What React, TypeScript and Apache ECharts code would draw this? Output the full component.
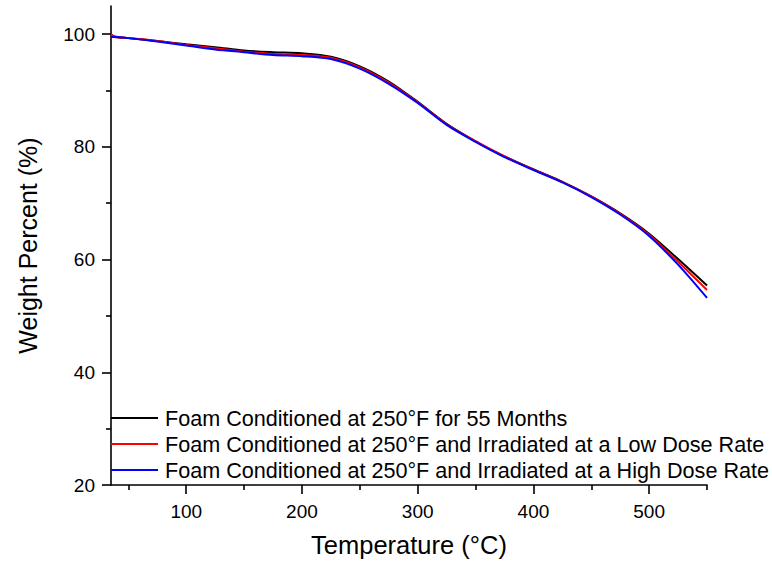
import React, { useEffect, useRef } from "react";
import * as echarts from "echarts";

const temps = [35, 38, 50, 75, 100, 125, 150, 175, 200, 225, 250, 275, 300, 325, 350, 375, 400, 425, 450, 475, 500, 525, 550];
const aged55 = [100.0, 99.6, 99.3, 98.8, 98.2, 97.7, 97.1, 96.8, 96.6, 96.0, 94.3, 91.6, 88.0, 84.1, 81.0, 78.3, 76.0, 73.8, 71.2, 68.2, 64.6, 60.1, 55.4];
const lowDose = [100.0, 99.5, 99.3, 98.8, 98.1, 97.5, 96.9, 96.5, 96.3, 95.8, 94.1, 91.4, 87.9, 84.0, 81.0, 78.3, 76.0, 73.8, 71.2, 68.1, 64.4, 59.6, 54.6];
const highDose = [99.5, 99.5, 99.3, 98.7, 98.0, 97.3, 96.8, 96.3, 96.1, 95.6, 93.9, 91.2, 87.8, 83.9, 80.9, 78.2, 75.9, 73.7, 71.1, 68.0, 64.2, 59.1, 53.2];

const seriesNames = [
  "Foam Conditioned at 250°F for 55 Months",
  "Foam Conditioned at 250°F and Irradiated at a Low Dose Rate",
  "Foam Conditioned at 250°F and Irradiated at a High Dose Rate",
];
const seriesColors = ["#000000", "#ff0000", "#0000ff"];
const xMajorTicks = [100, 200, 300, 400, 500];
const xMinorTicks = [50, 150, 250, 350, 450, 550];
const yMajorTicks = [20, 40, 60, 80, 100];
const yMinorTicks = [30, 50, 70, 90];

const FONT = "'Liberation Sans', Arial, Helvetica, sans-serif";

export default function App() {
  const ref = useRef<HTMLDivElement>(null);
  useEffect(() => {
    if (!ref.current) return;
    const chart = echarts.init(ref.current, null, { renderer: "svg" });
    const values = [aged55, lowDose, highDose];
    const axisLine = { show: true, lineStyle: { color: "#000", width: 1.6 } };
    chart.setOption({
      animation: false,
      backgroundColor: "#fff",
      textStyle: { fontFamily: FONT },
      grid: { left: 111, top: 6, right: 65, bottom: 82 },
      legend: {
        orient: "vertical",
        left: 111,
        top: 405,
        icon: "rect",
        itemWidth: 47,
        itemHeight: 2,
        itemGap: 0,
        padding: 0,
        textStyle: { fontFamily: FONT, fontSize: 21.6, color: "#000", lineHeight: 26, padding: [0, 0, 0, 2] },
        data: seriesNames,
      },
      xAxis: [
        {
          type: "value",
          min: 35,
          max: 550,
          position: "bottom",
          name: "Temperature (°C)",
          nameLocation: "middle",
          nameGap: 47,
          nameTextStyle: { fontFamily: FONT, fontSize: 25.5, color: "#000" },
          axisLine,
          splitLine: { show: false },
          axisTick: { show: true, length: 9, customValues: xMajorTicks, lineStyle: { color: "#000", width: 1.6 } },
          axisLabel: { customValues: xMajorTicks, margin: 17, fontSize: 19, color: "#000", fontFamily: FONT },
        },
        {
          type: "value",
          min: 35,
          max: 550,
          position: "bottom",
          axisLine: { show: false },
          splitLine: { show: false },
          axisTick: { show: true, length: 5, customValues: xMinorTicks, lineStyle: { color: "#000", width: 1.6 } },
          axisLabel: { show: false },
        },
      ],
      yAxis: [
        {
          type: "value",
          min: 20,
          max: 105,
          position: "left",
          name: "Weight Percent (%)",
          nameLocation: "middle",
          nameGap: 71,
          nameTextStyle: { fontFamily: FONT, fontSize: 25, color: "#000" },
          axisLine,
          splitLine: { show: false },
          axisTick: { show: true, length: 9, customValues: yMajorTicks, lineStyle: { color: "#000", width: 1.6 } },
          axisLabel: { customValues: yMajorTicks, margin: 16, fontSize: 19, color: "#000", fontFamily: FONT },
        },
        {
          type: "value",
          min: 20,
          max: 105,
          position: "left",
          axisLine: { show: false },
          splitLine: { show: false },
          axisTick: { show: true, length: 5, customValues: yMinorTicks, lineStyle: { color: "#000", width: 1.6 } },
          axisLabel: { show: false },
        },
      ],
      series: seriesNames.map((name, i) => ({
        name,
        type: "line",
        xAxisIndex: 0,
        yAxisIndex: 0,
        data: temps.map((t, j) => [t, values[i][j]]),
        showSymbol: false,
        symbol: "none",
        smooth: 0.3,
        color: seriesColors[i],
        lineStyle: { color: seriesColors[i], width: 2 },
        z: 2 + i,
      })),
    });
    return () => chart.dispose();
  }, []);
  return <div ref={ref} style={{ position: "fixed", left: 0, top: 0, width: 772, height: 567 }} />;
}
